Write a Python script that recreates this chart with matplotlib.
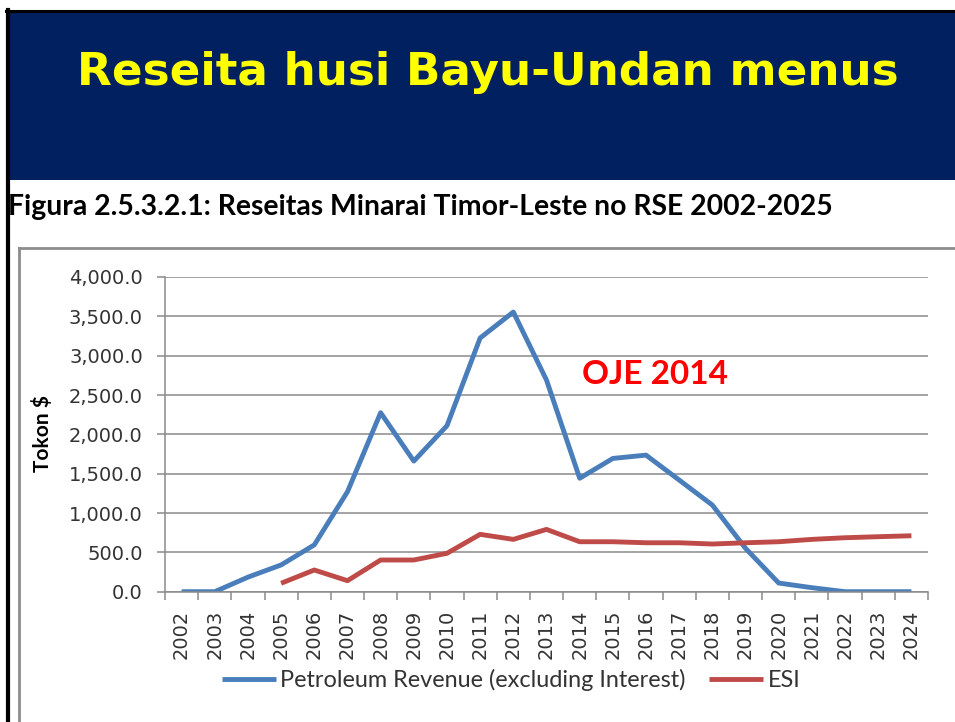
import numpy as np
import matplotlib
matplotlib.use("Agg")
import matplotlib.pyplot as plt
from matplotlib.patches import Rectangle
from matplotlib.lines import Line2D
from matplotlib.ticker import FuncFormatter, FixedLocator

years = [str(y) for y in range(2002, 2025)]
petroleum = [0, 0, 185, 340, 595, 1270, 2275, 1660, 2110, 3225, 3555, 2690,
             1442, 1694, 1736, 1419, 1101, 551, 110, 51, 0, 0, 0]
esi = [np.nan, np.nan, np.nan, 107, 276, 140, 403, 403, 488, 729, 665, 792,
       635, 635, 622, 622, 606, 622, 635, 665, 686, 699, 711]

fig = plt.figure(figsize=(9.55, 7.22), dpi=100)
W, H = 955, 722

def fx(px):
    return px / W

def fy(py):
    return 1 - py / H

# slide frame and header
fig.add_artist(Rectangle((fx(10), fy(180)), fx(945), 168 / H, transform=fig.transFigure,
                         facecolor="#00205f", edgecolor="none"))
fig.add_artist(Line2D([fx(6), 1], [fy(11), fy(11)], transform=fig.transFigure, color="black", lw=2.2))
fig.add_artist(Line2D([fx(8), fx(8)], [fy(10), 0], transform=fig.transFigure, color="black", lw=3))
fig.add_artist(Line2D([fx(19), 1], [fy(248), fy(248)], transform=fig.transFigure, color="#8c8c8c", lw=2))
fig.add_artist(Line2D([fx(19), fx(19)], [fy(248), 0], transform=fig.transFigure, color="#8c8c8c", lw=2))

fig.text(fx(488), fy(72), "Reseita husi Bayu-Undan menus", color="#ffff00",
         fontsize=32.6, fontweight="bold", ha="center", va="center", family="DejaVu Sans")
fig.text(fx(8), fy(207), "Figura 2.5.3.2.1: Reseitas Minarai Timor-Leste no RSE 2002-2025",
         fontsize=20.4, fontweight="bold", ha="left", va="center", family="Lato")
fig.text(fx(42), fy(434), "Tokon $", rotation=90, fontsize=15, fontweight="bold",
         ha="center", va="center", family="Lato")

ax = fig.add_axes([fx(165), fy(591.7), fx(928 - 165), (591.7 - 277) / H])
x = np.arange(len(years))
ax.plot(x, petroleum, color="#4a7ebb", lw=3.5, label="Petroleum Revenue (excluding Interest)",
        solid_capstyle="butt")
ax.plot(x, esi, color="#be4b48", lw=3.5, label="ESI", solid_capstyle="butt")

ax.set_xlim(-0.5, len(years) - 0.5)
ax.set_ylim(0, 4000)
ax.set_yticks(np.arange(0, 4001, 500))
ax.yaxis.set_major_formatter(FuncFormatter(lambda v, p: f"{v:,.1f}"))
ax.set_xticks(x)
ax.set_xticklabels(years, rotation=90)
ax.xaxis.set_minor_locator(FixedLocator(np.arange(-0.5, len(years), 1)))

ax.grid(axis="y", color="#8a8a8a", lw=1.1)
ax.set_axisbelow(True)
for s in ["top", "right"]:
    ax.spines[s].set_visible(False)
for s in ["left", "bottom"]:
    ax.spines[s].set_color("#8a8a8a")
    ax.spines[s].set_linewidth(1.1)

ax.tick_params(axis="y", length=6, width=1.1, color="#8a8a8a", pad=10,
               labelsize=14, labelcolor="#333333")
ax.tick_params(axis="x", which="major", length=0, pad=13, labelsize=14, labelcolor="#333333")
ax.tick_params(axis="x", which="minor", length=6, width=1.1, color="#8a8a8a")

ax.text(0.642, 0.689, "OJE 2014", transform=ax.transAxes, color="#ff0000",
        fontsize=24, fontweight="bold", ha="center", va="center", family="Lato")

leg = ax.legend(loc="center", bbox_to_anchor=(fx(511 - 165) / fx(763), -(680 - 591.7) / (591.7 - 277)),
                ncol=2, frameon=False, prop={"family": "Lato", "size": 16.9},
                handlelength=2.3, handletextpad=0.2, columnspacing=1.0)
for t in leg.get_texts():
    t.set_color("#333333")

fig.savefig("out.png", dpi=100, facecolor="white")
